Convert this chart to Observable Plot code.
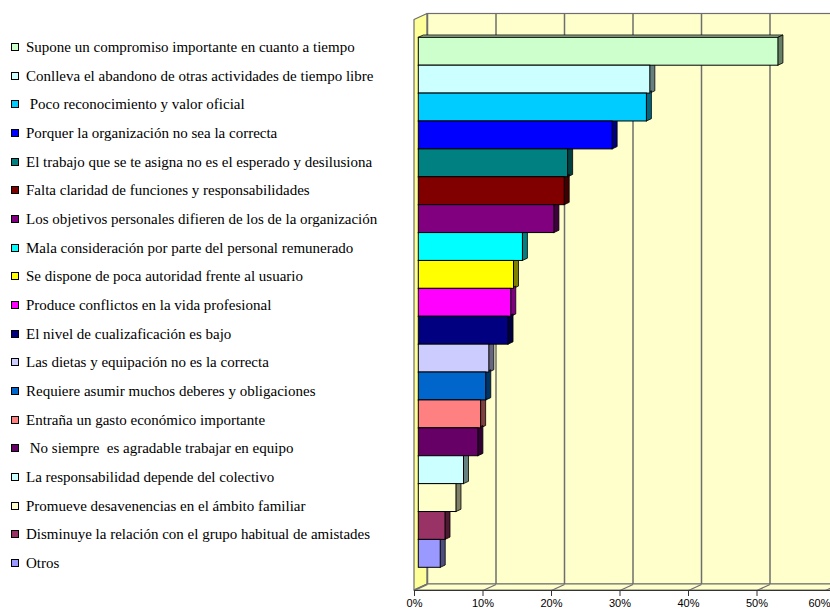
<!DOCTYPE html>
<html>
<head>
<meta charset="utf-8">
<script src="https://cdn.jsdelivr.net/npm/d3@7"></script>
<script src="https://cdn.jsdelivr.net/npm/@observablehq/plot@0.6"></script>
<style>
  html, body { margin: 0; padding: 0; background: #fff; }
  #wrap { position: relative; width: 830px; height: 610px; overflow: hidden; }
  #chart { position: absolute; left: 0; top: 0; }
  #legend { position: absolute; left: 0; top: 0; width: 400px; height: 610px; }
  .row { position: absolute; left: 0; height: 18px; line-height: 18px; white-space: pre;
         font-family: "Liberation Serif", "Times New Roman", "DejaVu Serif", serif; font-size: 15px; color: #000; }
  .sw { position: absolute; left: 11px; top: 5px; width: 6px; height: 6px; border: 1px solid #000; }
  .tx { position: absolute; left: 26px; top: 0; }
</style>
</head>
<body>
<div id="wrap">
  <div id="chart"></div>
  <div id="legend"></div>
</div>
<script>
const categories = [
  "Supone un compromiso importante en cuanto a tiempo",
  "Conlleva el abandono de otras actividades de tiempo libre",
  " Poco reconocimiento y valor oficial",
  "Porquer la organización no sea la correcta",
  "El trabajo que se te asigna no es el esperado y desilusiona",
  "Falta claridad de funciones y responsabilidades",
  "Los objetivos personales difieren de los de la organización",
  "Mala consideración por parte del personal remunerado",
  "Se dispone de poca autoridad frente al usuario",
  "Produce conflictos en la vida profesional",
  "El nivel de cualizaficación es bajo",
  "Las dietas y equipación no es la correcta",
  "Requiere asumir muchos deberes y obligaciones",
  "Entraña un gasto económico importante",
  " No siempre  es agradable trabajar en equipo",
  "La responsabilidad depende del colectivo",
  "Promueve desavenencias en el ámbito familiar",
  "Disminuye la relación con el grupo habitual de amistades",
  "Otros"
];
const values = [0.525, 0.338, 0.333, 0.283, 0.218, 0.213, 0.198, 0.152, 0.139, 0.135,
                0.131, 0.103, 0.0985, 0.091, 0.087, 0.066, 0.055, 0.039, 0.032];
const colors = ["#CCFFCC", "#CCFFFF", "#00CCFF", "#0000FF", "#008080", "#800000", "#800080",
                "#00FFFF", "#FFFF00", "#FF00FF", "#000080", "#CCCCFF", "#0066CC", "#FF8080",
                "#660066", "#CCFFFF", "#FFFFCC", "#993366", "#9999FF"];
const xTicks = [0, 0.1, 0.2, 0.3, 0.4, 0.5, 0.6];

// layout (pixels)
const W = 830, H = 610;
const xRange = [414, 825];
const yRange = [37.3, 567.3];
const kx = (xRange[1] - xRange[0]) / 0.6;
const ky = (yRange[1] - yRange[0]) / categories.length;
const toY = px => (px - yRange[0]) / ky;
const depthX = 13 / kx, depthY = -6 / ky;      // wall depth
const frontTop = toY(19.5), frontBot = toY(590);
const barOff = 4.3;                              // bar front face offset (px)
const bdX = 5 / kx, bdY = -2.3 / ky;             // bar depth

const shade = (c, k) => { const r = d3.rgb(c); return d3.rgb(r.r * k, r.g * k, r.b * k).formatHex(); };

const bars = categories.map((c, i) => ({i, cat: c, v: values[i], color: colors[i]}));
const sidePts = bars.flatMap(b => [
  {i: b.i, x: b.v, y1: b.i, y2: b.i + 1, fill: shade(b.color, 0.5)},
  {i: b.i, x: b.v + bdX, y1: b.i + bdY, y2: b.i + 1 + bdY, fill: shade(b.color, 0.5)}
]);
const topPts = bars.flatMap(b => [
  {i: b.i, y: b.i, x1: 0, x2: b.v, fill: shade(b.color, 0.75)},
  {i: b.i, y: b.i + bdY, x1: bdX, x2: b.v + bdX, fill: shade(b.color, 0.75)}
]);

const gridColor = "#6e6e6e";
const fmt = d3.format(".0%");
const axisStyle = {anchor: "bottom", tickFormat: fmt, tickSize: 6, tickPadding: 3,
  fontSize: 11, fontFamily: "Liberation Sans, Arial, sans-serif", fill: "#000", stroke: "#333"};

const chart = Plot.plot({
  width: W, height: H,
  marginLeft: 414, marginRight: 0, marginTop: 13, marginBottom: 20,
  x: {domain: [0, 0.6], range: xRange, axis: null},
  y: {domain: [0, categories.length], range: yRange, axis: null},
  color: {type: "identity"},
  style: {background: "transparent"},
  marks: [
    // back wall
    Plot.rect([0], {x1: () => depthX, x2: () => 0.6 + depthX + 0.05,
      y1: () => frontTop + depthY, y2: () => frontBot + depthY,
      fill: "#FFFFCC", stroke: gridColor, strokeWidth: 1.2}),
    // left side wall
    Plot.areaY([{x: 0, y1: frontTop, y2: frontBot}, {x: depthX, y1: frontTop + depthY, y2: frontBot + depthY}],
      {x: "x", y1: "y1", y2: "y2", fill: "#FFFF99", stroke: gridColor, strokeWidth: 1.2}),
    // floor
    Plot.areaX([{y: frontBot, x1: 0, x2: 0.6 + 0.05}, {y: frontBot + depthY, x1: depthX, x2: 0.6 + depthX + 0.05}],
      {y: "y", x1: "x1", x2: "x2", fill: "#FFFFCC", stroke: gridColor, strokeWidth: 1.2}),
    // back wall gridlines
    Plot.ruleX(xTicks, {x: d => d + depthX, y1: () => frontTop + depthY, y2: () => frontBot + depthY,
      stroke: gridColor, strokeWidth: 1.5}),
    // floor gridlines
    Plot.link(xTicks, {x1: d => d, y1: () => frontBot, x2: d => d + depthX, y2: () => frontBot + depthY,
      stroke: gridColor, strokeWidth: 1.2}),
    // front axis line
    Plot.ruleY([frontBot], {stroke: "#333", strokeWidth: 1}),
    // bars: top, side, front faces
    Plot.areaX(topPts, {y: "y", x1: "x1", x2: "x2", z: "i", fill: "fill", stroke: "#000", strokeWidth: 0.8, dx: barOff}),
    Plot.areaY(sidePts, {x: "x", y1: "y1", y2: "y2", z: "i", fill: "fill", stroke: "#000", strokeWidth: 0.8, dx: barOff}),
    Plot.rect(bars, {x1: () => 0, x2: "v", y1: "i", y2: d => d.i + 1, fill: "color",
      stroke: "#000", strokeWidth: 1, dx: barOff}),
    // axis (last label kept inside the page)
    Plot.axisX(xTicks.slice(0, -1), axisStyle),
    Plot.axisX(xTicks.slice(-1), {...axisStyle, textAnchor: "end", dx: 5})
  ]
});
document.getElementById("chart").appendChild(chart);

// legend
const legend = document.getElementById("legend");
const rowTop = 47, rowStep = 28.67;
categories.forEach((c, i) => {
  const row = document.createElement("div");
  row.className = "row";
  row.style.top = (rowTop + i * rowStep - 9) + "px";
  const sw = document.createElement("div");
  sw.className = "sw";
  sw.style.background = colors[i];
  const tx = document.createElement("div");
  tx.className = "tx";
  tx.textContent = c;
  row.appendChild(sw);
  row.appendChild(tx);
  legend.appendChild(row);
});
</script>
</body>
</html>
